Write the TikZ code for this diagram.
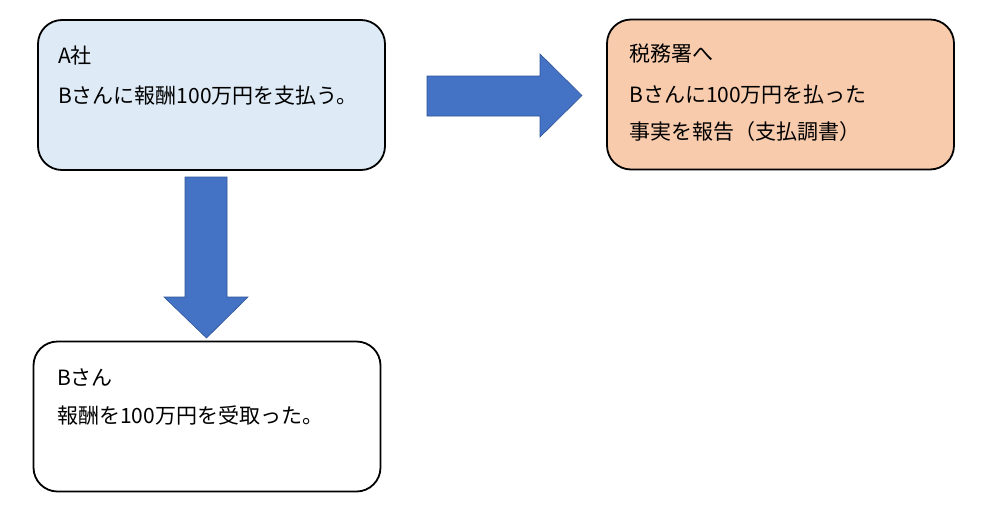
\documentclass[tikz,border=0pt]{standalone}
\usepackage{fontspec}
\setmainfont{Noto Sans CJK JP}
\definecolor{lightblue}{HTML}{DEEBF7}
\definecolor{peach}{HTML}{F8CBAD}
\definecolor{arrowblue}{HTML}{4472C4}
\definecolor{arrowedge}{HTML}{2F5597}
\begin{document}
\begin{tikzpicture}[x=1pt,y=-1pt,
  box/.style={draw=black, line width=1.8pt, rounded corners=24pt, minimum width=347pt, minimum height=150pt, inner sep=0pt},
  txt/.style={anchor=west, font=\fontsize{21pt}{25pt}\selectfont, inner sep=0pt},
  blk/.style={fill=arrowblue, draw=arrowedge, line width=0.6pt}]
\useasboundingbox[fill=white] (0,0) rectangle (1000,522);
\node[box, fill=lightblue] (a) at (211.5,95) {};
\node[box, fill=peach] (t) at (780.5,94.5) {};
\node[box, fill=white] (b) at (207,416.5) {};
\node[txt] (a1) at (58,56) {A社};
\node[txt] (a2) at (58,96) {Bさんに報酬100万円を支払う。};
\node[txt] (t1) at (629,54) {税務署へ};
\node[txt] (t2) at (629,95) {Bさんに100万円を払った};
\node[txt] (t3) at (629,132) {事実を報告（支払調書）};
\node[txt] (b1) at (57,378) {Bさん};
\node[txt] (b2) at (57,416) {報酬を100万円を受取った。};
\draw[blk] (427,76) -- (540,76) -- (540,54) -- (582,95.5) -- (540,137) -- (540,116) -- (427,116) -- cycle;
\draw[blk] (185,177) -- (227,177) -- (227,297) -- (248,297) -- (206.5,338) -- (164,297) -- (185,297) -- cycle;
\end{tikzpicture}
\end{document}
